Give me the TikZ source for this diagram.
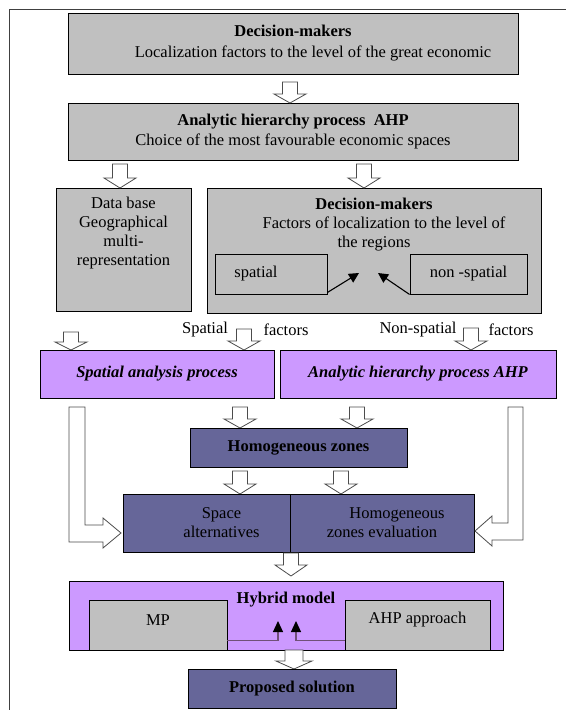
\documentclass[tikz,border=0pt]{standalone}
\usepackage{fontspec}
\setmainfont{Liberation Serif}
\usetikzlibrary{arrows.meta,calc}
\definecolor{boxgray}{RGB}{192,192,192}
\definecolor{lilac}{RGB}{204,153,255}
\definecolor{slate}{RGB}{102,102,153}
\definecolor{wire}{RGB}{112,80,120}
\newcommand{\diagfont}{\fontsize{16.5}{19}\selectfont}
\tikzset{graybox/.style={draw=black, fill=boxgray, line width=0.9pt, inner sep=0pt, align=center},
         lilacbox/.style={draw=black, fill=lilac, line width=0.9pt, inner sep=0pt, font=\diagfont\bfseries\itshape},
         slatebox/.style={draw=black, fill=slate, line width=0.9pt, inner sep=0pt, align=center},
         blockarr/.style={draw=black!70, fill=white, line width=0.8pt, line join=miter},
         pointer/.style={-{Triangle[length=10pt,width=10pt]}, line width=1.1pt},
         hyline/.style={draw=wire, line width=1.2pt, -{Triangle[length=11pt,width=10pt,color=black]}}
}
% hollow block arrow: x, top, tip, head length
\newcommand{\blockarrow}[4]{%
  \draw[blockarr] (#1-7.5,#2) -- (#1+7.5,#2) -- (#1+7.5,#3-#4) -- (#1+16,#3-#4)
    -- (#1,#3) -- (#1-16,#3-#4) -- (#1-7.5,#3-#4) -- cycle;}

\begin{document}
\begin{tikzpicture}[x=1pt,y=-1pt,font=\diagfont]
  \useasboundingbox (0,0) rectangle (566,710);
  \draw[draw=black!75, line width=1.5pt] (9.5,710) -- (9.5,9.5) -- (566,9.5);

  % upper level
  \node[graybox, minimum width=450pt, minimum height=61pt] (dmeco) at (293,43.5)
    {\textbf{Decision-makers}\\[2pt]\hspace*{40pt}Localization factors to the level of the great economic};
  \node[graybox, minimum width=450pt, minimum height=57pt] (ahpeco) at (293,131.5)
    {\textbf{Analytic hierarchy process\ \ AHP}\\[1pt]Choice of the most favourable economic spaces};
  \node[graybox, minimum width=135pt, minimum height=123pt,
        label={[anchor=north, align=center, inner sep=0pt, yshift=-9pt]north:{Data base\\Geographical\\multi-\\representation}}]
    (geodb) at (123.5,249.5) {};
  \node[graybox, minimum width=334pt, minimum height=125pt,
        label={[anchor=north, align=center, inner sep=0pt, yshift=-10pt]north:{\textbf{Decision-makers}\\\hspace*{20pt}Factors of localization to the level of\\the regions}}]
    (dmreg) at (374,250.5) {};
  \node[graybox, minimum width=112pt, minimum height=40pt] (spat) at (271,274) {\hspace*{-30pt}spatial};
  \node[graybox, minimum width=117pt, minimum height=40pt] (nspat) at (468.5,274) {non -spatial};
  \coordinate (tipsp) at (359,273);
  \coordinate (tipnsp) at (378,273);
  \draw[pointer] ([yshift=2pt]spat.south east) -- (tipsp);
  \draw[pointer] (nspat.south west) -- (tipnsp);

  \blockarrow{290}{82}{103}{9}
  \blockarrow{120}{164}{188}{10}
  \blockarrow{364}{164}{188}{10}

  % factors
  \node (lblsp) at (205,330) {Spatial};
  \node (lblspf) at (286,330) {factors};
  \node (lblnsp) at (418,330) {Non-spatial};
  \node (lblnspf) at (511,330) {factors};
  \blockarrow{71}{332}{350}{8}
  \blockarrow{244}{329}{350}{9}
  \blockarrow{471}{328}{350}{9}

  % processes
  \node[lilacbox, minimum width=234pt, minimum height=48pt] (spproc) at (157,374) {Spatial analysis process};
  \node[lilacbox, minimum width=276pt, minimum height=48pt] (ahpproc) at (418,374) {Analytic hierarchy process AHP};

  \blockarrow{240}{407}{428}{9}
  \blockarrow{357}{407}{428}{9}
  \node[slatebox, minimum width=217pt, minimum height=39pt, font=\diagfont\bfseries] (homzn) at (298.5,447.5) {Homogeneous zones};
  \blockarrow{240}{471}{494}{10}
  \blockarrow{341}{471}{494}{10}

  \node[slatebox, minimum width=167pt, minimum height=58pt] (spalt) at (206.5,523)
    {\hspace*{30pt}Space\\\hspace*{30pt}alternatives};
  \node[slatebox, minimum width=184pt, minimum height=58pt] (hzeval) at (382,523)
    {\hspace*{30pt}Homogeneous\\zones evaluation};

  % bent arrows
  \draw[blockarr] (69,407) -- (85,407) -- (85,525) -- (103,525) -- (103,518) -- (121,533)
    -- (103,548) -- (103,542) -- (69,542) -- cycle;
  \draw[blockarr] (523,407) -- (508,407) -- (508,523) -- (492,523) -- (492,516) -- (475,531)
    -- (492,546) -- (492,540) -- (523,540) -- cycle;

  \blockarrow{291}{553}{576}{11}

  % hybrid model
  \node[draw=black, fill=lilac, line width=0.9pt, minimum width=434pt, minimum height=69pt,
        label={[anchor=north, inner sep=0pt, yshift=-11pt, font=\diagfont\bfseries]north:Hybrid model}]
    (hybrid) at (286,615.5) {};
  \node[graybox, minimum width=138pt, minimum height=50pt, label={[yshift=5pt]center:MP}] (mp) at (158,625) {};
  \node[graybox, minimum width=145pt, minimum height=50pt, label={[yshift=5pt]center:AHP approach}] (ahpa) at (417.5,625) {};
  \coordinate (uptipl) at (278,621);
  \coordinate (uptipr) at (296,621);
  \draw[hyline] ([yshift=10pt]mp.south east) -| (uptipl);
  \draw[hyline] ([yshift=10pt]ahpa.south west) -| (uptipr);

  \draw[blockarr] (285,650) -- (303,650) -- (303,661) -- (312,661) -- (294,669)
    -- (276,661) -- (285,661) -- cycle;
  \node[slatebox, minimum width=208pt, minimum height=39pt, font=\diagfont\bfseries] (solution) at (292,688.5) {Proposed solution};
\end{tikzpicture}
\end{document}
